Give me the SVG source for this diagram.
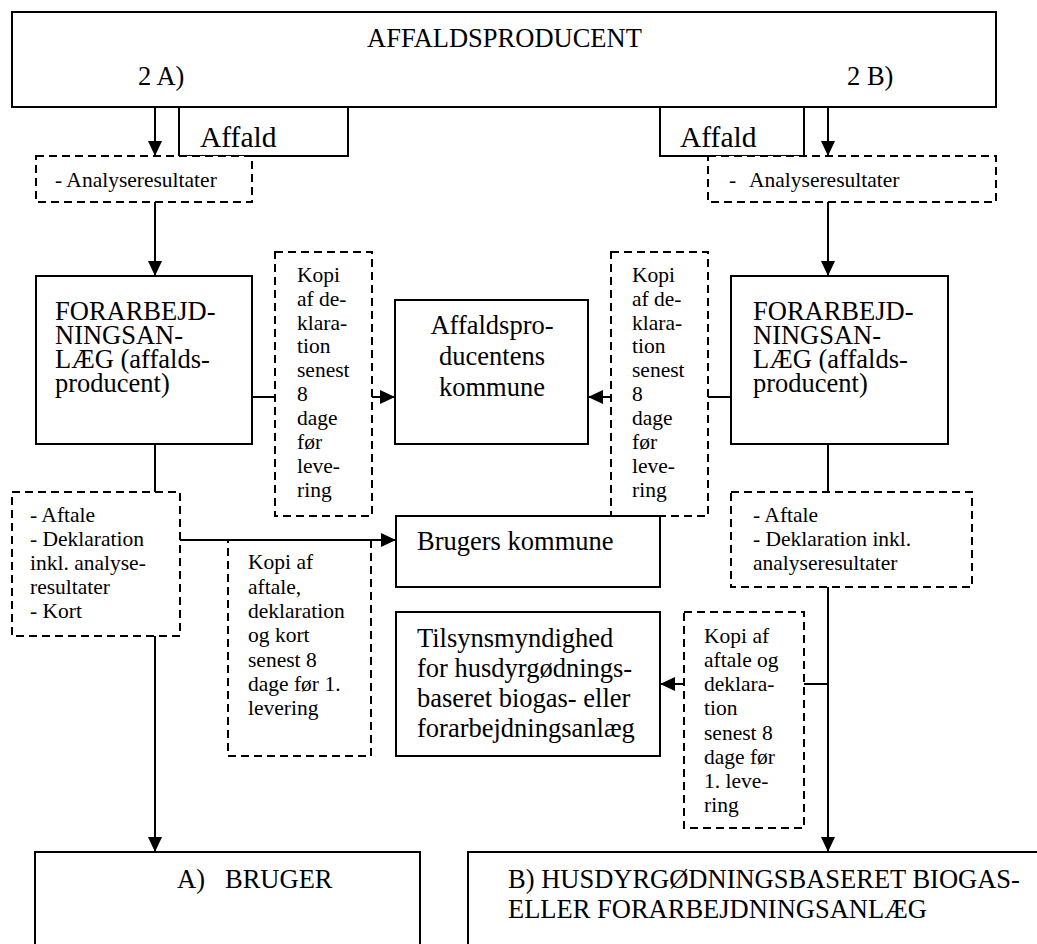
<svg xmlns="http://www.w3.org/2000/svg" width="1037" height="944" viewBox="0 0 1037 944">
<style>
.box{fill:#fff;stroke:#000;stroke-width:2}
.dbox{fill:#fff;stroke:#000;stroke-width:2;stroke-dasharray:8 5}
.ln{fill:none;stroke:#000;stroke-width:2}
text{font-family:"Liberation Serif","Times New Roman",serif;fill:#000}
.m{font-size:26.5px}
.s{font-size:21.5px}
.a{font-size:29.5px}
.c{text-anchor:middle}
</style>
<defs>
<marker id="ah" markerUnits="userSpaceOnUse" markerWidth="16" markerHeight="16" viewBox="0 0 16 16" refX="15" refY="8" orient="auto">
<path d="M0,1 L15,8 L0,15 Z" fill="#000"/>
</marker>
</defs>
<rect width="1037" height="944" fill="#fff"/>

<g id="affaldsproducent">
<rect class="box" x="12" y="12" width="984" height="95"/>
<text class="m" x="367" y="47">AFFALDSPRODUCENT</text>
<text class="m" x="138" y="85">2 A)</text>
<text class="m" x="847" y="85">2 B)</text>
</g>

<g id="affald-a">
<rect class="box" x="179" y="107" width="169" height="49"/>
<text class="a" x="200" y="147">Affald</text>
</g>
<g id="affald-b">
<rect class="box" x="660" y="107" width="144" height="49"/>
<text class="a" x="680" y="147">Affald</text>
</g>

<g id="analyse-a">
<rect class="dbox" x="36" y="156" width="216" height="46"/>
<text class="s" x="55" y="187">- Analyseresultater</text>
</g>
<g id="analyse-b">
<rect class="dbox" x="708" y="156" width="288" height="46"/>
<text class="s" x="729" y="187">-</text>
<text class="s" x="749" y="187">Analyseresultater</text>
</g>

<g id="forarb-a">
<rect class="box" x="36" y="276" width="216" height="168"/>
<text class="m" x="55" y="320">FORARBEJD-</text>
<text class="m" x="55" y="344">NINGSAN-</text>
<text class="m" x="55" y="368">LÆG (affalds-</text>
<text class="m" x="55" y="392">producent)</text>
</g>
<g id="forarb-b">
<rect class="box" x="731" y="276" width="217" height="168"/>
<text class="m" x="753" y="320">FORARBEJD-</text>
<text class="m" x="753" y="344">NINGSAN-</text>
<text class="m" x="753" y="368">LÆG (affalds-</text>
<text class="m" x="753" y="392">producent)</text>
</g>

<g id="kopi-a">
<rect class="dbox" x="275" y="252" width="97" height="264"/>
<text class="s" x="297" y="282">Kopi</text>
<text class="s" x="297" y="306">af de-</text>
<text class="s" x="297" y="330">klara-</text>
<text class="s" x="297" y="353">tion</text>
<text class="s" x="297" y="377">senest</text>
<text class="s" x="297" y="401">8</text>
<text class="s" x="297" y="425">dage</text>
<text class="s" x="297" y="449">før</text>
<text class="s" x="297" y="473">leve-</text>
<text class="s" x="297" y="497">ring</text>
</g>
<g id="kopi-b">
<rect class="dbox" x="611" y="252" width="97" height="264"/>
<text class="s" x="632" y="282">Kopi</text>
<text class="s" x="632" y="306">af de-</text>
<text class="s" x="632" y="330">klara-</text>
<text class="s" x="632" y="353">tion</text>
<text class="s" x="632" y="377">senest</text>
<text class="s" x="632" y="401">8</text>
<text class="s" x="632" y="425">dage</text>
<text class="s" x="632" y="449">før</text>
<text class="s" x="632" y="473">leve-</text>
<text class="s" x="632" y="497">ring</text>
</g>

<g id="producentens-kommune">
<rect class="box" x="395" y="300" width="193" height="144"/>
<text class="m c" x="492" y="334">Affaldspro-</text>
<text class="m c" x="492" y="365">ducentens</text>
<text class="m c" x="492" y="396">kommune</text>
</g>

<g id="aftale-a">
<rect class="dbox" x="12" y="492" width="168" height="144"/>
<text class="s" x="30" y="522">- Aftale</text>
<text class="s" x="30" y="546">- Deklaration</text>
<text class="s" x="30" y="570">inkl. analyse-</text>
<text class="s" x="30" y="594">resultater</text>
<text class="s" x="30" y="618">- Kort</text>
</g>
<g id="aftale-b">
<rect class="dbox" x="731" y="492" width="241" height="95"/>
<text class="s" x="753" y="522">- Aftale</text>
<text class="s" x="753" y="546">- Deklaration inkl.</text>
<text class="s" x="753" y="570">analyseresultater</text>
</g>

<g id="kopi-c">
<rect class="dbox" x="228" y="540" width="143" height="216"/>
<text class="s" x="248" y="569">Kopi af</text>
<text class="s" x="248" y="594">aftale,</text>
<text class="s" x="248" y="618">deklaration</text>
<text class="s" x="248" y="642">og kort</text>
<text class="s" x="248" y="667">senest 8</text>
<text class="s" x="248" y="691">dage før 1.</text>
<text class="s" x="248" y="715">levering</text>
</g>

<g id="brugers-kommune">
<rect class="box" x="396" y="516" width="264" height="71"/>
<text class="m" x="417" y="550">Brugers kommune</text>
</g>

<g id="tilsyn">
<rect class="box" x="396" y="612" width="264" height="144"/>
<text class="m" x="417" y="647">Tilsynsmyndighed</text>
<text class="m" x="417" y="677">for husdyrgødnings-</text>
<text class="m" x="417" y="707">baseret biogas- eller</text>
<text class="m" x="417" y="737">forarbejdningsanlæg</text>
</g>

<g id="kopi-d">
<rect class="dbox" x="684" y="612" width="120" height="216"/>
<text class="s" x="704" y="643">Kopi af</text>
<text class="s" x="704" y="667">aftale og</text>
<text class="s" x="704" y="691">deklara-</text>
<text class="s" x="704" y="715">tion</text>
<text class="s" x="704" y="740">senest 8</text>
<text class="s" x="704" y="764">dage før</text>
<text class="s" x="704" y="788">1. leve-</text>
<text class="s" x="704" y="812">ring</text>
</g>

<g id="bruger">
<path class="box" d="M35,950 V852 H420 V950"/>
<text class="m" x="177" y="888">A)</text>
<text class="m" x="225" y="888">BRUGER</text>
</g>
<g id="biogas">
<path class="box" d="M468,950 V852 H1040"/>
<text class="m" x="508" y="888">B) HUSDYRGØDNINGSBASERET BIOGAS-</text>
<text class="m" x="508" y="918">ELLER FORARBEJDNINGSANLÆG</text>
</g>

<g id="connectors">
<line class="ln" x1="155" y1="107" x2="155" y2="156" marker-end="url(#ah)"/>
<line class="ln" x1="155" y1="202" x2="155" y2="276" marker-end="url(#ah)"/>
<line class="ln" x1="155" y1="444" x2="155" y2="492"/>
<line class="ln" x1="155" y1="636" x2="155" y2="852" marker-end="url(#ah)"/>
<line class="ln" x1="828" y1="107" x2="828" y2="156" marker-end="url(#ah)"/>
<line class="ln" x1="828" y1="202" x2="828" y2="276" marker-end="url(#ah)"/>
<line class="ln" x1="828" y1="444" x2="828" y2="492"/>
<line class="ln" x1="828" y1="587" x2="828" y2="852" marker-end="url(#ah)"/>
<line class="ln" x1="252" y1="397" x2="275" y2="397"/>
<line class="ln" x1="372" y1="397" x2="395" y2="397" marker-end="url(#ah)"/>
<line class="ln" x1="731" y1="397" x2="708" y2="397"/>
<line class="ln" x1="611" y1="397" x2="588" y2="397" marker-end="url(#ah)"/>
<line class="ln" x1="180" y1="540" x2="396" y2="540" marker-end="url(#ah)"/>
<line class="ln" x1="828" y1="684" x2="804" y2="684"/>
<line class="ln" x1="684" y1="684" x2="660" y2="684" marker-end="url(#ah)"/>
</g>
</svg>
